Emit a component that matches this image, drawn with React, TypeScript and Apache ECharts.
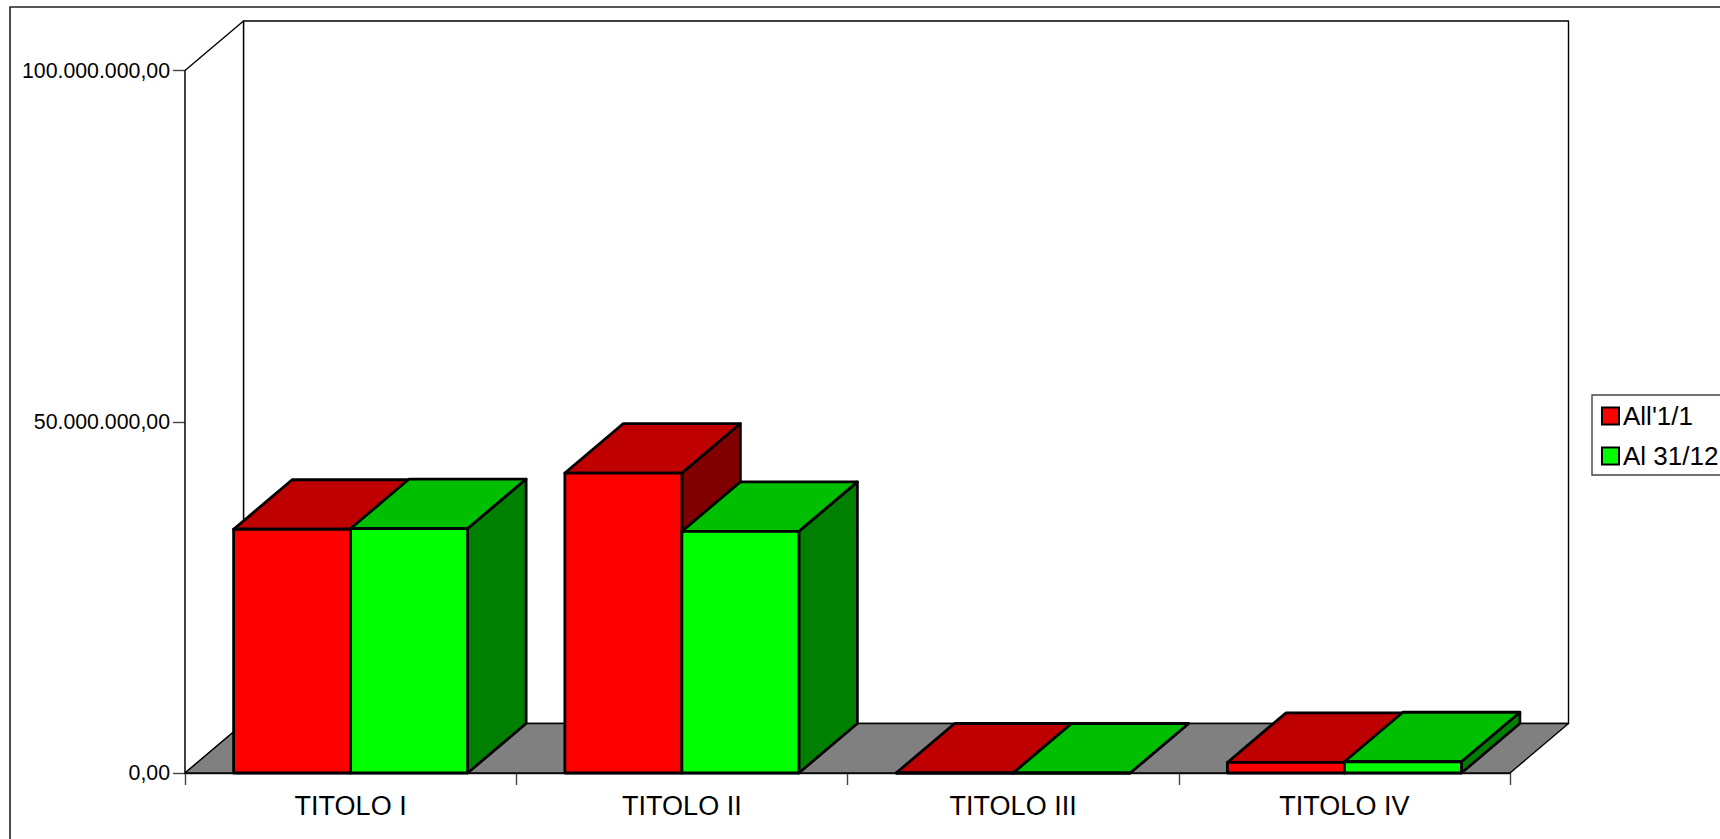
import React, { useEffect, useRef } from "react";
import * as echarts from "echarts";

const categories = ["TITOLO I", "TITOLO II", "TITOLO III", "TITOLO IV"];
const seriesNames = ["All'1/1", "Al 31/12"];
const valuesStart = [34700000, 42700000, 0, 1500000];
const valuesEnd = [34800000, 34400000, 0, 1600000];
const yTicks = [0, 50000000, 100000000];
const yTickLabels = ["0,00", "50.000.000,00", "100.000.000,00"];

const DX = 58.5;
const DY = -49.5;
const BAR_RATIO = 117 / 331.25;
const FONT = "'Liberation Sans', Arial, sans-serif";

const pts = (list: number[][]) => list;

function barRenderer(side: number, front: string, top: string, right: string) {
  return (_params: any, api: any) => {
    const i = api.value(0);
    const v = api.value(1);
    const base = api.coord([i, 0]);
    const head = api.coord([i, v]);
    const w = api.size([1, 0])[0] * BAR_RATIO;
    const x0 = base[0] + (side < 0 ? -w : 0);
    const x1 = x0 + w;
    const y0 = base[1];
    const y1 = head[1];
    const style = (fill: string) => ({ fill, stroke: "#000", lineWidth: 2.8, lineJoin: "round" });
    return {
      type: "group",
      children: [
        {
          type: "polygon",
          shape: { points: pts([[x1, y0], [x1 + DX, y0 + DY], [x1 + DX, y1 + DY], [x1, y1]]) },
          style: style(right),
        },
        {
          type: "polygon",
          shape: { points: pts([[x0, y1], [x1, y1], [x1 + DX, y1 + DY], [x0 + DX, y1 + DY]]) },
          style: style(top),
        },
        {
          type: "polygon",
          shape: { points: pts([[x0, y0], [x1, y0], [x1, y1], [x0, y1]]) },
          style: style(front),
        },
      ],
    };
  };
}

function wallRenderer(params: any) {
  const r = params.coordSys;
  const L = r.x;
  const R = r.x + r.width;
  const T = r.y;
  const B = r.y + r.height;
  const line = { stroke: "#000", lineWidth: 1.4, lineJoin: "round" };
  return {
    type: "group",
    children: [
      {
        type: "polygon",
        shape: { points: pts([[L + DX, T + DY], [R + DX, T + DY], [R + DX, B + DY], [L + DX, B + DY]]) },
        style: { fill: "#fff", ...line },
      },
      {
        type: "polygon",
        shape: { points: pts([[L, T], [L + DX, T + DY], [L + DX, B + DY], [L, B]]) },
        style: { fill: "#fff", ...line },
      },
      {
        type: "polygon",
        shape: { points: pts([[L, B], [R, B], [R + DX, B + DY], [L + DX, B + DY]]) },
        style: { fill: "#808080", ...line },
      },
    ],
  };
}

export default function App() {
  const ref = useRef<HTMLDivElement>(null);
  useEffect(() => {
    const chart = echarts.init(ref.current!, undefined, { renderer: "svg" });
    chart.setOption({
      animation: false,
      backgroundColor: "#fff",
      grid: { left: 185, top: 70.5, width: 1325, height: 702.5, containLabel: false },
      xAxis: {
        type: "category",
        data: categories,
        boundaryGap: true,
        axisLine: { show: true, lineStyle: { color: "#222", width: 1.4 } },
        axisTick: { show: true, alignWithLabel: false, length: 12, lineStyle: { color: "#444", width: 1.4 } },
        axisLabel: { color: "#000", fontFamily: FONT, fontSize: 27, margin: 19 },
        splitLine: { show: false },
      },
      yAxis: {
        type: "value",
        min: 0,
        max: 100000000,
        interval: 50000000,
        axisLine: { show: true, lineStyle: { color: "#222", width: 1.4 } },
        axisTick: { show: true, length: 12, lineStyle: { color: "#444", width: 1.4 } },
        axisLabel: {
          color: "#000",
          fontFamily: FONT,
          fontSize: 21.3,
          margin: 15,
          formatter: (v: number) => yTickLabels[yTicks.indexOf(v)],
        },
        splitLine: { show: false },
      },
      legend: {
        left: 1592,
        top: 395,
        orient: "vertical",
        data: seriesNames,
        padding: [8, 60, 6, 9],
        itemGap: 14,
        itemWidth: 17,
        itemHeight: 17,
        borderColor: "#444",
        borderWidth: 1.4,
        backgroundColor: "#fff",
        icon: "rect",
        selectedMode: false,
        itemStyle: { borderColor: "#000", borderWidth: 2 },
        textStyle: { color: "#000", fontFamily: FONT, fontSize: 26, padding: [0, 0, 0, -1] },
      },
      graphic: [
        {
          type: "rect",
          silent: true,
          z: 100,
          shape: { x: 10, y: 7, width: 1800, height: 900 },
          style: { fill: "none", stroke: "#222", lineWidth: 1.6 },
        },
      ],
      series: [
        {
          type: "custom",
          silent: true,
          z: 1,
          clip: false,
          legendHoverLink: false,
          renderItem: wallRenderer,
          data: [[0, 0]],
          encode: { x: 0, y: 1 },
        },
        {
          name: seriesNames[0],
          type: "custom",
          z: 3,
          clip: false,
          itemStyle: { color: "#ff0000" },
          renderItem: barRenderer(-1, "#ff0000", "#be0000", "#800000"),
          data: valuesStart.map((v, i) => [i, v]),
          encode: { x: 0, y: 1 },
        },
        {
          name: seriesNames[1],
          type: "custom",
          z: 4,
          clip: false,
          itemStyle: { color: "#00ff00" },
          renderItem: barRenderer(1, "#00ff00", "#00be00", "#008000"),
          data: valuesEnd.map((v, i) => [i, v]),
          encode: { x: 0, y: 1 },
        },
      ],
    });
    return () => chart.dispose();
  }, []);
  return (
    <div
      ref={ref}
      style={{ position: "fixed", left: 0, top: 0, width: 1720, height: 839, overflow: "hidden" }}
    />
  );
}
